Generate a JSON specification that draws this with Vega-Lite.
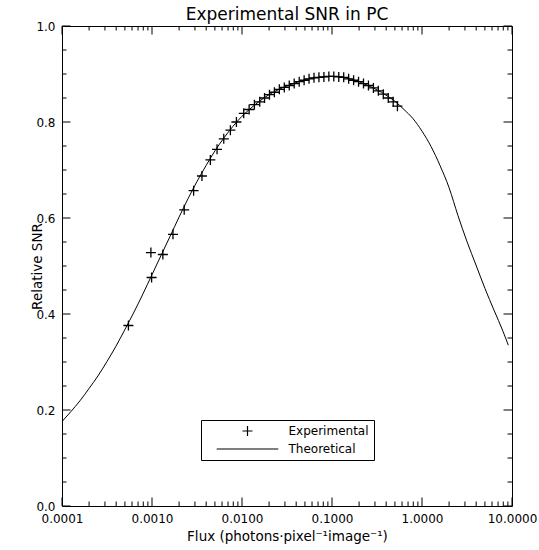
{
  "$schema": "https://vega.github.io/schema/vega-lite/v6.json",
  "autosize": {"type": "none"},
  "width": 450,
  "height": 480,
  "padding": {"left": 62, "top": 26, "right": 27, "bottom": 44},
  "background": "white",
  "title": {"text": "Experimental SNR in PC", "font": "DejaVu Sans", "fontSize": 17, "fontWeight": "normal", "color": "black", "offset": -4},
  "datasets": {
    "theory": [
      {"flux": 0.0001, "snr": 0.176}, {"flux": 0.000126, "snr": 0.197}, {"flux": 0.000158, "snr": 0.219},
      {"flux": 0.0002, "snr": 0.245}, {"flux": 0.000251, "snr": 0.271}, {"flux": 0.000316, "snr": 0.301},
      {"flux": 0.000398, "snr": 0.333}, {"flux": 0.000501, "snr": 0.368}, {"flux": 0.000631, "snr": 0.404},
      {"flux": 0.000794, "snr": 0.442}, {"flux": 0.001, "snr": 0.482}, {"flux": 0.00126, "snr": 0.522},
      {"flux": 0.00158, "snr": 0.561}, {"flux": 0.002, "snr": 0.602}, {"flux": 0.00251, "snr": 0.64},
      {"flux": 0.00316, "snr": 0.676}, {"flux": 0.00398, "snr": 0.709}, {"flux": 0.00501, "snr": 0.74},
      {"flux": 0.00631, "snr": 0.767}, {"flux": 0.00794, "snr": 0.791}, {"flux": 0.01, "snr": 0.812},
      {"flux": 0.0126, "snr": 0.829}, {"flux": 0.0158, "snr": 0.844}, {"flux": 0.02, "snr": 0.857},
      {"flux": 0.0251, "snr": 0.867}, {"flux": 0.0316, "snr": 0.875}, {"flux": 0.0398, "snr": 0.882},
      {"flux": 0.0501, "snr": 0.888}, {"flux": 0.0631, "snr": 0.892}, {"flux": 0.0794, "snr": 0.894},
      {"flux": 0.1, "snr": 0.895}, {"flux": 0.126, "snr": 0.894}, {"flux": 0.158, "snr": 0.89},
      {"flux": 0.2, "snr": 0.884}, {"flux": 0.251, "snr": 0.876}, {"flux": 0.316, "snr": 0.867},
      {"flux": 0.398, "snr": 0.856}, {"flux": 0.501, "snr": 0.843}, {"flux": 0.631, "snr": 0.826},
      {"flux": 0.794, "snr": 0.807}, {"flux": 1.0, "snr": 0.781}, {"flux": 1.26, "snr": 0.749},
      {"flux": 1.58, "snr": 0.71}, {"flux": 2.0, "snr": 0.663}, {"flux": 2.51, "snr": 0.605},
      {"flux": 3.16, "snr": 0.551}, {"flux": 3.98, "snr": 0.502}, {"flux": 5.01, "snr": 0.453},
      {"flux": 6.31, "snr": 0.408}, {"flux": 7.94, "snr": 0.364}, {"flux": 9.1, "snr": 0.335}
    ],
    "experiment": [
      {"flux": 0.000547, "snr": 0.376, "series": "Experimental"},
      {"flux": 0.000972, "snr": 0.528, "series": "Experimental"},
      {"flux": 0.00099, "snr": 0.476, "series": "Experimental"},
      {"flux": 0.00132, "snr": 0.524, "series": "Experimental"},
      {"flux": 0.00171, "snr": 0.566, "series": "Experimental"},
      {"flux": 0.00228, "snr": 0.617, "series": "Experimental"},
      {"flux": 0.0029, "snr": 0.657, "series": "Experimental"},
      {"flux": 0.00359, "snr": 0.6875, "series": "Experimental"},
      {"flux": 0.00445, "snr": 0.721, "series": "Experimental"},
      {"flux": 0.00528, "snr": 0.743, "series": "Experimental"},
      {"flux": 0.00627, "snr": 0.765, "series": "Experimental"},
      {"flux": 0.00743, "snr": 0.783, "series": "Experimental"},
      {"flux": 0.00867, "snr": 0.8, "series": "Experimental"},
      {"flux": 0.01045, "snr": 0.818, "series": "Experimental"},
      {"flux": 0.012, "snr": 0.826, "series": "Experimental"},
      {"flux": 0.01374, "snr": 0.836, "series": "Experimental"},
      {"flux": 0.01574, "snr": 0.842, "series": "Experimental"},
      {"flux": 0.0178, "snr": 0.85, "series": "Experimental"},
      {"flux": 0.0202, "snr": 0.857, "series": "Experimental"},
      {"flux": 0.0229, "snr": 0.862, "series": "Experimental"},
      {"flux": 0.026, "snr": 0.868, "series": "Experimental"},
      {"flux": 0.0295, "snr": 0.872, "series": "Experimental"},
      {"flux": 0.0335, "snr": 0.876, "series": "Experimental"},
      {"flux": 0.038, "snr": 0.88, "series": "Experimental"},
      {"flux": 0.0432, "snr": 0.884, "series": "Experimental"},
      {"flux": 0.049, "snr": 0.887, "series": "Experimental"},
      {"flux": 0.0556, "snr": 0.89, "series": "Experimental"},
      {"flux": 0.0631, "snr": 0.892, "series": "Experimental"},
      {"flux": 0.0716, "snr": 0.893, "series": "Experimental"},
      {"flux": 0.0813, "snr": 0.894, "series": "Experimental"},
      {"flux": 0.0923, "snr": 0.895, "series": "Experimental"},
      {"flux": 0.1047, "snr": 0.895, "series": "Experimental"},
      {"flux": 0.1189, "snr": 0.894, "series": "Experimental"},
      {"flux": 0.1349, "snr": 0.893, "series": "Experimental"},
      {"flux": 0.1531, "snr": 0.89, "series": "Experimental"},
      {"flux": 0.1738, "snr": 0.887, "series": "Experimental"},
      {"flux": 0.1972, "snr": 0.884, "series": "Experimental"},
      {"flux": 0.2239, "snr": 0.88, "series": "Experimental"},
      {"flux": 0.2541, "snr": 0.876, "series": "Experimental"},
      {"flux": 0.2884, "snr": 0.871, "series": "Experimental"},
      {"flux": 0.3273, "snr": 0.865, "series": "Experimental"},
      {"flux": 0.3715, "snr": 0.858, "series": "Experimental"},
      {"flux": 0.4217, "snr": 0.85, "series": "Experimental"},
      {"flux": 0.4786, "snr": 0.842, "series": "Experimental"},
      {"flux": 0.5333, "snr": 0.833, "series": "Experimental"}
    ],
    "xticks": [
      {"flux": 0.0001, "kind": "major"}, {"flux": 0.0002, "kind": "minor"}, {"flux": 0.0003, "kind": "minor"}, {"flux": 0.0004, "kind": "minor"}, {"flux": 0.0005, "kind": "minor"}, {"flux": 0.0006, "kind": "minor"}, {"flux": 0.0007, "kind": "minor"}, {"flux": 0.0008, "kind": "minor"}, {"flux": 0.0009, "kind": "minor"},
      {"flux": 0.001, "kind": "major"}, {"flux": 0.002, "kind": "minor"}, {"flux": 0.003, "kind": "minor"}, {"flux": 0.004, "kind": "minor"}, {"flux": 0.005, "kind": "minor"}, {"flux": 0.006, "kind": "minor"}, {"flux": 0.007, "kind": "minor"}, {"flux": 0.008, "kind": "minor"}, {"flux": 0.009, "kind": "minor"},
      {"flux": 0.01, "kind": "major"}, {"flux": 0.02, "kind": "minor"}, {"flux": 0.03, "kind": "minor"}, {"flux": 0.04, "kind": "minor"}, {"flux": 0.05, "kind": "minor"}, {"flux": 0.06, "kind": "minor"}, {"flux": 0.07, "kind": "minor"}, {"flux": 0.08, "kind": "minor"}, {"flux": 0.09, "kind": "minor"},
      {"flux": 0.1, "kind": "major"}, {"flux": 0.2, "kind": "minor"}, {"flux": 0.3, "kind": "minor"}, {"flux": 0.4, "kind": "minor"}, {"flux": 0.5, "kind": "minor"}, {"flux": 0.6, "kind": "minor"}, {"flux": 0.7, "kind": "minor"}, {"flux": 0.8, "kind": "minor"}, {"flux": 0.9, "kind": "minor"},
      {"flux": 1, "kind": "major"}, {"flux": 2, "kind": "minor"}, {"flux": 3, "kind": "minor"}, {"flux": 4, "kind": "minor"}, {"flux": 5, "kind": "minor"}, {"flux": 6, "kind": "minor"}, {"flux": 7, "kind": "minor"}, {"flux": 8, "kind": "minor"}, {"flux": 9, "kind": "minor"},
      {"flux": 10, "kind": "major"}
    ],
    "yticks": [
      {"snr": 0, "kind": "major"}, {"snr": 0.05, "kind": "minor"}, {"snr": 0.1, "kind": "minor"}, {"snr": 0.15, "kind": "minor"},
      {"snr": 0.2, "kind": "major"}, {"snr": 0.25, "kind": "minor"}, {"snr": 0.3, "kind": "minor"}, {"snr": 0.35, "kind": "minor"},
      {"snr": 0.4, "kind": "major"}, {"snr": 0.45, "kind": "minor"}, {"snr": 0.5, "kind": "minor"}, {"snr": 0.55, "kind": "minor"},
      {"snr": 0.6, "kind": "major"}, {"snr": 0.65, "kind": "minor"}, {"snr": 0.7, "kind": "minor"}, {"snr": 0.75, "kind": "minor"},
      {"snr": 0.8, "kind": "major"}, {"snr": 0.85, "kind": "minor"}, {"snr": 0.9, "kind": "minor"}, {"snr": 0.95, "kind": "minor"},
      {"snr": 1, "kind": "major"}
    ]
  },
  "layer": [
    {
      "data": {"name": "theory"},
      "mark": {"type": "line", "color": "black", "strokeWidth": 1, "interpolate": "monotone", "clip": true},
      "encoding": {
        "x": {
          "field": "flux", "type": "quantitative",
          "scale": {"type": "log", "domain": [0.0001, 10], "nice": false},
          "axis": {
            "orient": "bottom",
            "title": "Flux (photons·pixel⁻¹image⁻¹)",
            "titlePadding": 5,
            "values": [0.0001, 0.001, 0.01, 0.1, 1, 10],
            "format": ".4f",
            "ticks": false,
            "grid": false,
            "labelPadding": 7.5,
            "labelFlush": false,
            "labelOverlap": false
          }
        },
        "y": {
          "field": "snr", "type": "quantitative",
          "scale": {"domain": [0, 1], "nice": false, "zero": false},
          "axis": {
            "orient": "left",
            "title": "Relative SNR",
            "titleX": -18,
            "values": [0, 0.2, 0.4, 0.6, 0.8, 1],
            "format": ".1f",
            "ticks": false,
            "grid": false,
            "labelPadding": 7,
            "labelFlush": false,
            "labelOverlap": false
          }
        }
      }
    },
    {
      "data": {"name": "xticks"},
      "mark": {"type": "point", "shape": "M0,0L0,-1", "filled": false, "color": "black", "strokeWidth": 1, "opacity": 1},
      "encoding": {
        "x": {"field": "flux", "type": "quantitative", "axis": null},
        "y": {"datum": 0, "type": "quantitative", "axis": null},
        "size": {"field": "kind", "type": "ordinal", "scale": {"domain": ["major", "minor"], "range": [289, 81]}, "legend": null}
      }
    },
    {
      "data": {"name": "xticks"},
      "mark": {"type": "point", "shape": "M0,0L0,1", "filled": false, "color": "black", "strokeWidth": 1, "opacity": 1},
      "encoding": {
        "x": {"field": "flux", "type": "quantitative", "axis": null},
        "y": {"datum": 1, "type": "quantitative", "axis": null},
        "size": {"field": "kind", "type": "ordinal", "legend": null}
      }
    },
    {
      "data": {"name": "yticks"},
      "mark": {"type": "point", "shape": "M0,0L1,0", "filled": false, "color": "black", "strokeWidth": 1, "opacity": 1},
      "encoding": {
        "x": {"datum": 0.0001, "type": "quantitative", "axis": null},
        "y": {"field": "snr", "type": "quantitative", "axis": null},
        "size": {"field": "kind", "type": "ordinal", "legend": null}
      }
    },
    {
      "data": {"name": "yticks"},
      "mark": {"type": "point", "shape": "M0,0L-1,0", "filled": false, "color": "black", "strokeWidth": 1, "opacity": 1},
      "encoding": {
        "x": {"datum": 10, "type": "quantitative", "axis": null},
        "y": {"field": "snr", "type": "quantitative", "axis": null},
        "size": {"field": "kind", "type": "ordinal", "legend": null}
      }
    },
    {
      "data": {"name": "experiment"},
      "mark": {"type": "point", "filled": false, "strokeWidth": 1.3, "size": 100, "opacity": 1},
      "encoding": {
        "x": {"field": "flux", "type": "quantitative", "axis": null},
        "y": {"field": "snr", "type": "quantitative", "axis": null},
        "shape": {
          "field": "series", "type": "nominal",
          "scale": {"domain": ["Experimental", "Theoretical"], "range": ["M-1,0L1,0M0,-1L0,1", "M-6.16,0L6.16,0"]},
          "legend": {
            "title": null,
            "orient": "none",
            "legendX": 139,
            "legendY": 394,
            "direction": "vertical",
            "columns": 1,
            "padding": 5,
            "strokeColor": "black",
            "symbolSize": 100,
            "symbolStrokeColor": "black",
            "symbolFillColor": "transparent",
            "symbolStrokeWidth": 1.2,
            "symbolOffset": 35.5,
            "labelOffset": 35,
            "rowPadding": 4,
            "labelFont": "DejaVu Sans",
            "labelFontSize": 12,
            "labelColor": "black"
          }
        },
        "color": {"value": "black"}
      }
    }
  ],
  "resolve": {"axis": {"x": "independent", "y": "independent"}},
  "config": {
    "view": {"stroke": "black", "strokeWidth": 1},
    "axis": {
      "domain": false,
      "labelColor": "black", "labelFont": "DejaVu Sans", "labelFontSize": 12,
      "titleFont": "DejaVu Sans", "titleFontSize": 13.5, "titleFontWeight": "normal", "titleColor": "black"
    }
  }
}
